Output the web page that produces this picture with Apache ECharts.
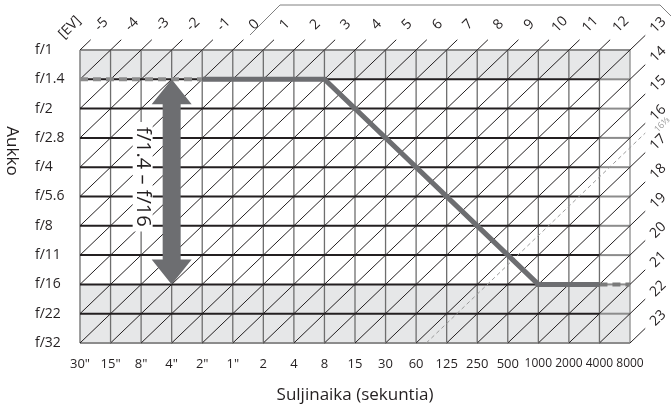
<!DOCTYPE html>
<html>
<head>
<meta charset="utf-8">
<script src="https://cdn.jsdelivr.net/npm/echarts@6.0.0/dist/echarts.min.js"></script>
<style>
  html, body { margin: 0; padding: 0; background: #fff; }
  #chart { width: 671px; height: 409px; }
</style>
</head>
<body>
<div id="chart"></div>
<script>
// shutter speeds at the column edges, apertures at the row edges
const shutterLabels = ['30"', '15"', '8"', '4"', '2"', '1"', '2', '4', '8', '15', '30', '60', '125', '250', '500', '1000', '2000', '4000', '8000'];
const apertureLabels = ['f/1', 'f/1.4', 'f/2', 'f/2.8', 'f/4', 'f/5.6', 'f/8', 'f/11', 'f/16', 'f/22', 'f/32'];
// EV diagonals
const evValues = [-5, -4, -3, -2, -1, 0, 1, 2, 3, 4, 5, 6, 7, 8, 9, 10, 11, 12, 13, 14, 15, 16, 17, 18, 19, 20, 21, 22, 23];
// grey bands, as aperture index from / to
const bandFrom = [0, 8];
const bandTo = [1, 10];
// program line (shutter index, aperture index)
const programShutter = [4, 8, 15, 17];
const programAperture = [1, 1, 8, 8];
const programLeftShutter = [0, 4];
const programLeftAperture = [1, 1];
const programRightShutter = [17, 18];
const programRightAperture = [8, 8];
// aperture range arrow
const arrowShutter = 3;
const arrowFrom = 1;
const arrowTo = 8;
const arrowText = 'f/1.4 – f/16';
// dashed limit line
const limitEv = [16 + 1 / 3];
const limitLabel = '16⅓';
// last column drawn with grey row lines
const dimColumnFrom = 17;

const FONT = '"Open Sans", "Noto Sans", sans-serif';
const cols = shutterLabels.length - 1;
const rows = apertureLabels.length - 1;
const ev0 = evValues[0];

const chart = echarts.init(document.getElementById('chart'));

function line(p1, p2, stroke, width, dash) {
  return {
    type: 'line',
    shape: { x1: p1[0], y1: p1[1], x2: p2[0], y2: p2[1] },
    style: { stroke: stroke, lineWidth: width, lineDash: dash || null }
  };
}

// where a diagonal starts inside the grid, where it ends outside, and where its label sits
function diagGeometry(ev) {
  const s = ev - ev0;
  const start = s <= rows ? [0, s] : [s - rows, rows];
  let end, lab;
  if (s < cols) {
    end = [s + 0.35, -0.35];
    lab = [s + 0.7, -0.87];
  } else {
    end = [cols + 0.5, s - cols - 0.5];
    lab = [cols + 0.92, s - cols - 0.85];
  }
  return { start, end, lab };
}

function evText(lp, text) {
  return {
    type: 'text',
    x: lp[0],
    y: lp[1],
    rotation: Math.PI / 4,
    style: { text: text, font: '14px ' + FONT, fill: '#231f20', align: 'center', verticalAlign: 'middle' }
  };
}

chart.setOption({
  animation: false,
  grid: { left: 80, right: 41, top: 50, bottom: 60 },
  xAxis: {
    type: 'value',
    min: 0,
    max: cols,
    interval: 1,
    name: 'Suljinaika (sekuntia)',
    nameLocation: 'middle',
    nameGap: 44,
    nameTextStyle: { fontFamily: FONT, fontSize: 17, color: '#231f20' },
    axisLine: { show: false },
    axisTick: { show: false },
    splitLine: { show: false },
    axisLabel: {
      margin: 15,
      fontFamily: FONT,
      fontSize: 13,
      color: '#231f20',
      showMinLabel: true,
      showMaxLabel: true,
      hideOverlap: false,
      formatter: (v) => {
        const t = shutterLabels[v];
        return t.length > 3 ? '{n|' + t + '}' : t;
      },
      rich: {
        n: { fontFamily: FONT, fontSize: 12, color: '#231f20' }
      }
    }
  },
  yAxis: {
    type: 'value',
    inverse: true,
    min: 0,
    max: rows,
    interval: 1,
    axisLine: { show: false },
    axisTick: { show: false },
    splitLine: { show: false },
    axisLabel: {
      margin: 45,
      align: 'left',
      fontFamily: FONT,
      fontSize: 14,
      color: '#231f20',
      padding: [4, 0, 0, 0],
      showMinLabel: true,
      showMaxLabel: true,
      formatter: (v) => apertureLabels[v]
    }
  },
  graphic: [
    {
      type: 'text',
      x: 12,
      y: 151,
      rotation: -Math.PI / 2,
      style: { text: 'Aukko', font: '17px ' + FONT, fill: '#231f20', align: 'center', verticalAlign: 'middle' }
    },
    {
      type: 'polyline',
      shape: { points: [[250, 35], [280, 5], [660, 5], [671, 16]] },
      style: { stroke: '#808080', lineWidth: 1, fill: null }
    }
  ],
  series: [
    {
      // grey bands
      type: 'custom',
      clip: false,
      data: bandFrom.map((f, i) => [f, bandTo[i]]),
      renderItem: (params, api) => {
        const a = api.coord([0, api.value(0)]);
        const b = api.coord([cols, api.value(1)]);
        return { type: 'rect', shape: { x: a[0], y: a[1], width: b[0] - a[0], height: b[1] - a[1] }, style: { fill: '#e6e7e8' } };
      }
    },
    {
      // column lines
      type: 'custom',
      clip: false,
      data: shutterLabels.map((_, i) => [i]),
      renderItem: (params, api) => {
        const i = api.value(0);
        const color = i === cols ? '#8c8c8c' : '#6e6e6e';
        return line(api.coord([i, 0]), api.coord([i, rows]), color, 1.3);
      }
    },
    {
      // row lines
      type: 'custom',
      clip: false,
      data: apertureLabels.map((_, j) => [j]),
      renderItem: (params, api) => {
        const j = api.value(0);
        if (j === 0 || j === rows) {
          return line(api.coord([0, j]), api.coord([cols, j]), '#8c8c8c', 1.8);
        }
        return {
          type: 'group',
          children: [
            line(api.coord([0, j]), api.coord([dimColumnFrom, j]), '#231f20', 2),
            line(api.coord([dimColumnFrom, j]), api.coord([cols, j]), '#8c8c8c', 2)
          ]
        };
      }
    },
    {
      // EV diagonals with labels
      type: 'custom',
      clip: false,
      data: evValues.map((v) => [v]),
      renderItem: (params, api) => {
        const ev = api.value(0);
        const g = diagGeometry(ev);
        return {
          type: 'group',
          children: [
            line(api.coord(g.start), api.coord(g.end), '#231f20', 1),
            evText(api.coord(g.lab), String(ev))
          ]
        };
      }
    },
    {
      // [EV] unit label
      type: 'custom',
      clip: false,
      data: [[ev0 - 1]],
      renderItem: (params, api) => {
        const g = diagGeometry(api.value(0));
        const lp = api.coord(g.lab);
        return evText([lp[0] - 1, lp[1] + 3], '[EV]');
      }
    },
    {
      // dashed limit line
      type: 'custom',
      clip: false,
      data: limitEv.map((v) => [v]),
      renderItem: (params, api) => {
        const g = diagGeometry(api.value(0));
        const lp = api.coord(g.lab);
        return {
          type: 'group',
          children: [
            line(api.coord(g.start), api.coord(g.end), '#9a9a9a', 1, [4, 3]),
            {
              type: 'text',
              x: lp[0] + 4,
              y: lp[1] + 2,
              rotation: Math.PI / 4,
              style: { text: limitLabel, font: '9px ' + FONT, fill: '#9a9a9a', align: 'center', verticalAlign: 'middle' }
            }
          ]
        };
      }
    },
    {
      type: 'line',
      data: programLeftShutter.map((x, i) => [x, programLeftAperture[i]]),
      showSymbol: false,
      lineStyle: { color: '#8c8c8c', width: 4, type: [8, 5] },
      z: 5
    },
    {
      type: 'line',
      data: programRightShutter.map((x, i) => [x, programRightAperture[i]]),
      showSymbol: false,
      lineStyle: { color: '#7a7a7a', width: 4, type: [8, 5] },
      z: 5
    },
    {
      type: 'line',
      data: programShutter.map((x, i) => [x, programAperture[i]]),
      showSymbol: false,
      lineStyle: { color: '#6d6e71', width: 5, join: 'miter' },
      z: 6
    },
    {
      // aperture range arrow with its label
      type: 'custom',
      clip: false,
      z: 7,
      data: [[arrowShutter, arrowFrom, arrowTo]],
      renderItem: (params, api) => {
        const top = api.coord([api.value(0), api.value(1)]);
        const bot = api.coord([api.value(0), api.value(2)]);
        const x = top[0];
        const headH = 25, headW = 20, shaftW = 9;
        const points = [
          [x, top[1]], [x + headW, top[1] + headH], [x + shaftW, top[1] + headH],
          [x + shaftW, bot[1] - headH], [x + headW, bot[1] - headH], [x, bot[1]],
          [x - headW, bot[1] - headH], [x - shaftW, bot[1] - headH],
          [x - shaftW, top[1] + headH], [x - headW, top[1] + headH]
        ];
        return {
          type: 'group',
          children: [
            { type: 'polygon', shape: { points: points }, style: { fill: '#6d6e71' } },
            {
              type: 'text',
              x: x - 29,
              y: (top[1] + bot[1]) / 2 - 5,
              rotation: -Math.PI / 2,
              style: {
                text: arrowText, font: '20px ' + FONT, fill: '#231f20',
                align: 'center', verticalAlign: 'middle',
                backgroundColor: '#fff', padding: [0, 5]
              }
            }
          ]
        };
      }
    }
  ]
});
</script>
</body>
</html>
